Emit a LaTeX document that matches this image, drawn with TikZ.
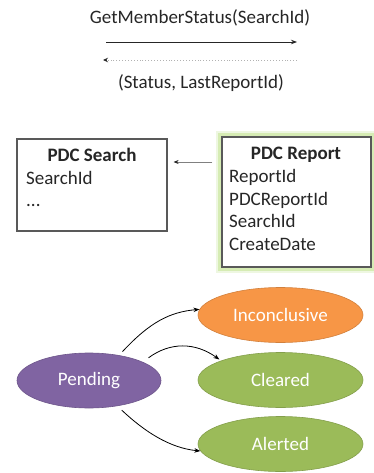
\documentclass[tikz,border=0pt]{standalone}
\usepackage{fontspec}
\setmainfont{Carlito}
\usetikzlibrary{arrows.meta,shapes.geometric,backgrounds}
\definecolor{ink}{HTML}{262626}
\definecolor{boxline}{HTML}{595959}
\definecolor{orng}{HTML}{F79646}
\definecolor{grn}{HTML}{9BBB59}
\definecolor{purp}{HTML}{8064A2}
\definecolor{glowA}{HTML}{EEF7E1}
\definecolor{glowB}{HTML}{D6ECB4}
\begin{document}
\begin{tikzpicture}[x=1pt,y=-1pt,
  lbl/.style={font=\fontsize{19}{22.8}\selectfont, text=ink, inner sep=0pt},
  tbox/.style={draw=boxline, line width=1.2pt, fill=white, inner sep=0pt},
  state/.style={ellipse, minimum width=165pt, minimum height=55pt, inner sep=0pt,
    font=\fontsize{19}{22.8}\selectfont, text=white, draw=#1!85!black, line width=0.6pt, fill=#1},
  flow/.style={-{Stealth[length=6pt,width=4.5pt]}, line width=0.8pt, draw=black}]
\useasboundingbox (0,0) rectangle (374,473);

% top message exchange
\node[lbl, anchor=base] (call) at (200,24) {GetMemberStatus(SearchId)};
\node[lbl, anchor=base] (ret) at (201,89) {(Status, LastReportId)};
\coordinate (c1) at (106,42); \coordinate (c2) at (297,42);
\coordinate (r1) at (297,60); \coordinate (r2) at (103,60);
\draw[-{Stealth[length=6pt,width=4.5pt]}, line width=0.9pt, draw=ink] (c1) -- (c2);
\draw[-{Stealth[length=5pt,width=4.5pt,color=ink]}, line width=0.9pt, draw=gray!60, dotted] (r1) -- (r2);

% boxes
\node[tbox, minimum width=150pt, minimum height=92pt] (sea) at (92,185) {};
\node[tbox, minimum width=149pt, minimum height=130pt] (rep) at (296.5,202) {};
\begin{pgfonlayer}{background}
\draw[glowA, line width=11pt] (rep.north west) rectangle (rep.south east);
\draw[glowB, line width=6pt] (rep.north west) rectangle (rep.south east);
\end{pgfonlayer}

\node[lbl, anchor=base] (seat) at (92,161) {\bfseries PDC Search};
\node[lbl, anchor=base west] (sea1) at (26,184) {SearchId};
\node[lbl, anchor=base west] (sea2) at (26,206) {...};

\node[lbl, anchor=base] (rept) at (296,160) {\bfseries PDC Report};
\node[lbl, anchor=base west] (rep1) at (229,182.5) {ReportId};
\node[lbl, anchor=base west] (rep2) at (229,205) {PDCReportId};
\node[lbl, anchor=base west] (rep3) at (229,227.7) {SearchId};
\node[lbl, anchor=base west] (rep4) at (229,250.4) {CreateDate};

\coordinate (ay) at (0,162);
\draw[-{Stealth[length=5pt,width=4pt,color=ink]}, draw=gray, line width=0.6pt, shorten <=9pt, shorten >=6pt] (rep.west |- ay) -- (sea.east |- ay);

% states
\node[state=orng] (inc) at (280.5,315) {Inconclusive};
\node[state=grn] (clr) at (280.5,380) {Cleared};
\node[state=grn] (alr) at (280.5,444) {Alerted};
\node[state=purp, minimum width=144pt] (pend) at (89,380.5) {Pending};

\draw[flow, shorten <=5pt] (pend.40) .. controls (150,322) and (170,312) .. (inc.176);
\draw[flow, shorten <=7pt, shorten >=2pt] (pend.19) .. controls (170,342) and (195,342) .. (clr.162);
\draw[flow, shorten <=6pt] (pend.-42) .. controls (145,432) and (170,448) .. (alr.185);
\end{tikzpicture}
\end{document}
